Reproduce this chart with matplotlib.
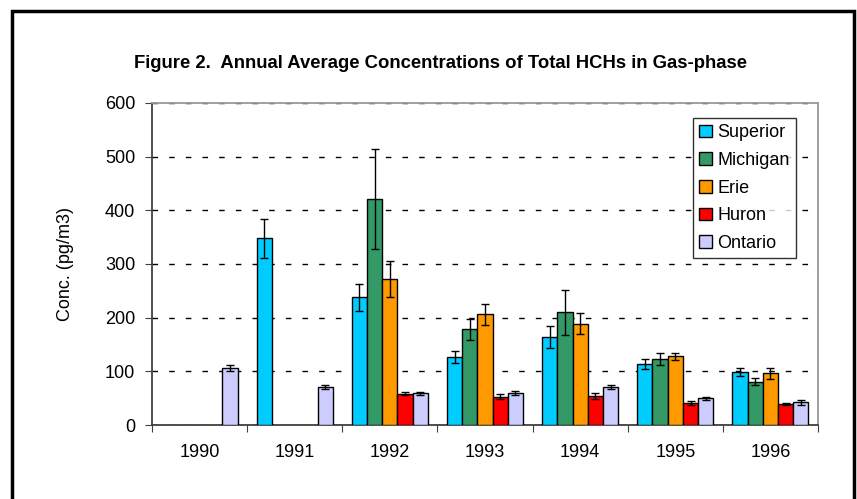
import numpy as np
import matplotlib
matplotlib.use("Agg")
import matplotlib.pyplot as plt
from matplotlib.patches import Rectangle

years = ["1990", "1991", "1992", "1993", "1994", "1995", "1996"]
lakes = ["Superior", "Michigan", "Erie", "Huron", "Ontario"]
colors = ["#00CCFF", "#339966", "#FF9900", "#FF0000", "#CCCCFF"]

# NaN = no sample that year
superior = [np.nan, 348, 238, 127, 164, 114, 99]
michigan = [np.nan, np.nan, 421, 178, 210, 123, 81]
erie = [np.nan, np.nan, 272, 206, 189, 128, 96]
huron = [np.nan, np.nan, 58, 53, 54, 41, 39]
ontario = [106, 71, 59, 59, 71, 50, 42]

superior_err = [0, 36, 25, 11, 21, 9, 7]
michigan_err = [0, 0, 93, 19, 42, 11, 7]
erie_err = [0, 0, 33, 20, 19, 7, 11]
huron_err = [0, 0, 3, 4, 6, 3, 2]
ontario_err = [6, 3, 3, 4, 4, 3, 4]

values = [superior, michigan, erie, huron, ontario]
errors = [superior_err, michigan_err, erie_err, huron_err, ontario_err]

plt.rcParams["font.family"] = ["Liberation Sans", "DejaVu Sans"]

fig = plt.figure(figsize=(8.57, 4.99), dpi=100)
ax = fig.add_axes([152 / 857, 1 - 425 / 499, 666 / 857, 322 / 499])

x = np.arange(len(years))
w = 0.16
for i, (name, vals, errs, col) in enumerate(zip(lakes, values, errors, colors)):
    vals = np.array(vals, dtype=float)
    errs = np.array(errs, dtype=float)
    pos = x + (i - 2) * w
    ok = ~np.isnan(vals)
    ax.bar(pos[ok], vals[ok], w, color=col, edgecolor="black", linewidth=1,
           label=name, zorder=3)
    ax.errorbar(pos[ok], vals[ok], yerr=errs[ok], fmt="none", ecolor="black",
                elinewidth=1, capsize=3, capthick=1, zorder=4)

ax.set_xlim(-0.5, len(years) - 0.5)
ax.set_ylim(0, 600)
ax.set_yticks(range(0, 601, 100))
ax.tick_params(axis="y", direction="out", length=5, color="#404040",
               labelsize=13, pad=7)
ax.set_xticks(np.arange(-0.5, len(years), 1))
ax.set_xticklabels([])
ax.tick_params(axis="x", which="major", direction="out", length=5,
               color="#404040")
ax.set_xticks(x, minor=True)
ax.set_xticklabels(years, minor=True)
ax.tick_params(axis="x", which="minor", length=0, labelsize=13, pad=14)

ax.yaxis.grid(True, color="black", linestyle=(0, (4, 8)), linewidth=1,
              zorder=0)
ax.set_axisbelow(True)
for s in ["left", "bottom"]:
    ax.spines[s].set_color("#404040")
    ax.spines[s].set_linewidth(1.3)
for s in ["top", "right"]:
    ax.spines[s].set_color("#999999")
    ax.spines[s].set_linewidth(1.3)

ax.set_ylabel("Conc. (pg/m3)", fontsize=13, labelpad=22)

fig.text(440 / 857, 1 - 63 / 499,
         "Figure 2.  Annual Average Concentrations of Total HCHs in Gas-phase",
         ha="center", va="center", fontsize=13.3, fontweight="bold")

leg = ax.legend(loc="upper left", bbox_to_anchor=((693 - 152) / 666, (425 - 118) / 322),
                fontsize=13, frameon=True, fancybox=False, edgecolor="black",
                handlelength=0.7, handleheight=0.7, handletextpad=0.3,
                labelspacing=0.59, borderpad=0.35, borderaxespad=0)
leg.get_frame().set_linewidth(1)

fig.patches.append(Rectangle((12 / 857, -0.02), (854 - 12) / 857, 1 - 11 / 499 + 0.02,
                             transform=fig.transFigure, fill=False,
                             edgecolor="black", linewidth=2.5, clip_on=False))

fig.savefig("out.png", dpi=100)
